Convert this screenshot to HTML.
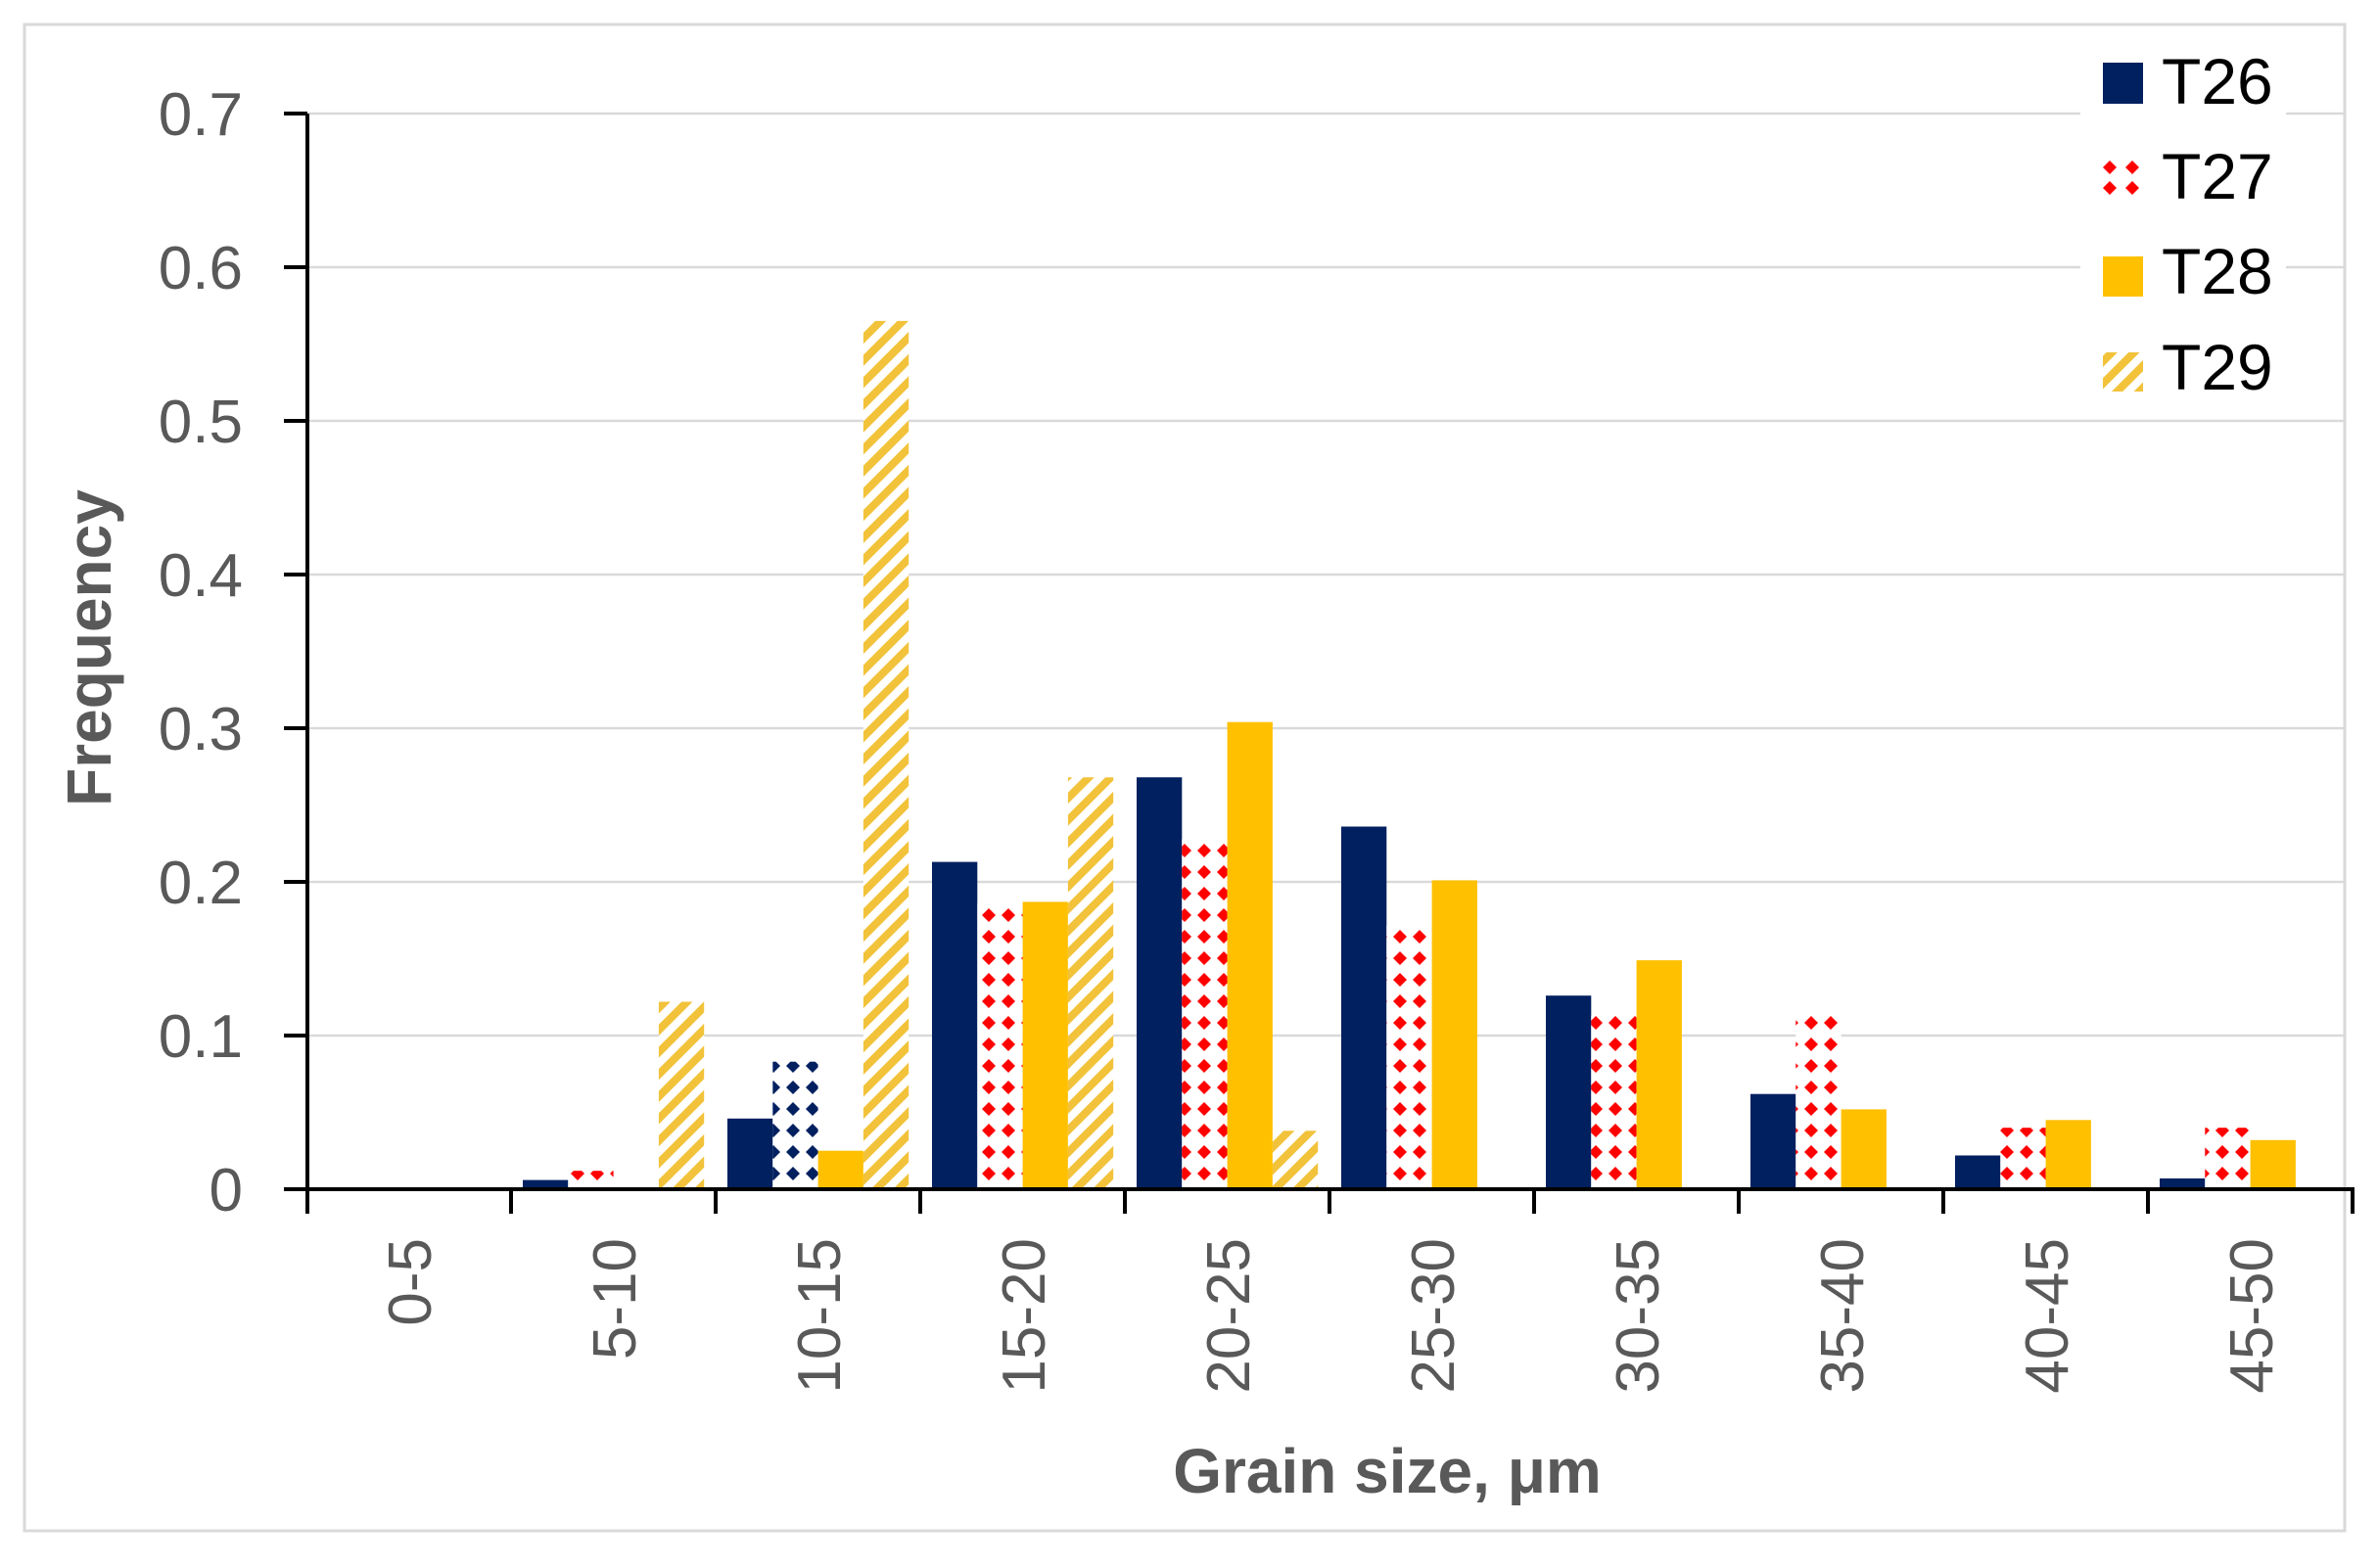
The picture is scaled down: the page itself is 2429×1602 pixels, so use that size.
<!DOCTYPE html>
<html><head><meta charset="utf-8"><style>
html,body{margin:0;padding:0;background:#fff;}
svg{display:block;font-family:"Liberation Sans",sans-serif;}
</style></head><body>
<svg width="2429" height="1602" viewBox="0 0 2429 1602" xmlns="http://www.w3.org/2000/svg">
<defs>
<pattern id="dr" width="20" height="22" patternUnits="userSpaceOnUse">
<rect width="20" height="22" fill="#fff"/>
<polygon points="10,4 17,11 10,18 3,11" fill="#ff0000"/>
</pattern>
<pattern id="dn" width="20" height="22" patternUnits="userSpaceOnUse">
<rect width="20" height="22" fill="#fff"/>
<polygon points="10,4 17,11 10,18 3,11" fill="#002060"/>
</pattern>
<pattern id="st" width="16" height="16" patternUnits="userSpaceOnUse" patternTransform="rotate(45)">
<rect width="16" height="16" fill="#fff"/>
<rect width="8" height="16" fill="#f2c23a"/>
</pattern>
</defs>
<rect x="0" y="0" width="2429" height="1602" fill="#fff"/>
<rect x="25" y="25" width="2370" height="1539" fill="none" stroke="#d9d9d9" stroke-width="3"/>
<g stroke="#d9d9d9" stroke-width="2.5">
<line x1="316" x2="2395" y1="116" y2="116"/>
<line x1="316" x2="2395" y1="273" y2="273"/>
<line x1="316" x2="2395" y1="430" y2="430"/>
<line x1="316" x2="2395" y1="587" y2="587"/>
<line x1="316" x2="2395" y1="744" y2="744"/>
<line x1="316" x2="2395" y1="901" y2="901"/>
<line x1="316" x2="2395" y1="1058" y2="1058"/>
</g>
<rect x="2125" y="40" width="210" height="380" fill="#fff"/>
<g>
<rect x="534" y="1205.6" width="46.3" height="9.4" fill="#002060"/>
<rect x="580.3" y="1196.2" width="46.3" height="18.8" fill="url(#dr)"/>
<rect x="672.9" y="1023.5" width="46.3" height="191.5" fill="url(#st)"/>

<rect x="743" y="1142.8" width="46.3" height="72.2" fill="#002060"/>
<rect x="789.3" y="1084.7" width="46.3" height="130.3" fill="url(#dn)"/>
<rect x="835.6" y="1175.7" width="46.3" height="39.3" fill="#ffc000"/>
<rect x="881.9" y="327.9" width="46.3" height="887.1" fill="url(#st)"/>

<rect x="952" y="880.6" width="46.3" height="334.4" fill="#002060"/>
<rect x="998.3" y="923" width="46.3" height="292" fill="url(#dr)"/>
<rect x="1044.6" y="921.4" width="46.3" height="293.6" fill="#ffc000"/>
<rect x="1090.9" y="794.2" width="46.3" height="420.8" fill="url(#st)"/>

<rect x="1161" y="794.2" width="46.3" height="420.8" fill="#002060"/>
<rect x="1207.3" y="857" width="46.3" height="358" fill="url(#dr)"/>
<rect x="1253.6" y="737.7" width="46.3" height="477.3" fill="#ffc000"/>
<rect x="1299.9" y="1155.3" width="46.3" height="59.7" fill="url(#st)"/>

<rect x="1370" y="844.5" width="46.3" height="370.5" fill="#002060"/>
<rect x="1416.3" y="945" width="46.3" height="270" fill="url(#dr)"/>
<rect x="1462.6" y="899.4" width="46.3" height="315.6" fill="#ffc000"/>

<rect x="1579" y="1017.2" width="46.3" height="197.8" fill="#002060"/>
<rect x="1625.3" y="1037.6" width="46.3" height="177.4" fill="url(#dr)"/>
<rect x="1671.6" y="981.1" width="46.3" height="233.9" fill="#ffc000"/>

<rect x="1788" y="1117.7" width="46.3" height="97.3" fill="#002060"/>
<rect x="1834.3" y="1037.6" width="46.3" height="177.4" fill="url(#dr)"/>
<rect x="1880.6" y="1133.4" width="46.3" height="81.6" fill="#ffc000"/>

<rect x="1997" y="1180.5" width="46.3" height="34.5" fill="#002060"/>
<rect x="2043.3" y="1152.2" width="46.3" height="62.8" fill="url(#dr)"/>
<rect x="2089.6" y="1144.3" width="46.3" height="70.7" fill="#ffc000"/>

<rect x="2206" y="1204" width="46.3" height="11" fill="#002060"/>
<rect x="2252.3" y="1152.2" width="46.3" height="62.8" fill="url(#dr)"/>
<rect x="2298.6" y="1164.8" width="46.3" height="50.2" fill="#ffc000"/>
</g>
<g stroke="#000" stroke-width="4">
<line x1="314" y1="116" x2="314" y2="1217"/>
<line x1="290" y1="1215" x2="2405" y2="1215"/>
<line x1="290" y1="116" x2="314" y2="116"/>
<line x1="290" y1="273" x2="314" y2="273"/>
<line x1="290" y1="430" x2="314" y2="430"/>
<line x1="290" y1="587" x2="314" y2="587"/>
<line x1="290" y1="744" x2="314" y2="744"/>
<line x1="290" y1="901" x2="314" y2="901"/>
<line x1="290" y1="1058" x2="314" y2="1058"/>
<line x1="314" y1="1215" x2="314" y2="1240"/>
<line x1="522" y1="1215" x2="522" y2="1240"/>
<line x1="731" y1="1215" x2="731" y2="1240"/>
<line x1="940" y1="1215" x2="940" y2="1240"/>
<line x1="1149" y1="1215" x2="1149" y2="1240"/>
<line x1="1358" y1="1215" x2="1358" y2="1240"/>
<line x1="1567" y1="1215" x2="1567" y2="1240"/>
<line x1="1776" y1="1215" x2="1776" y2="1240"/>
<line x1="1985" y1="1215" x2="1985" y2="1240"/>
<line x1="2194" y1="1215" x2="2194" y2="1240"/>
<line x1="2403" y1="1215" x2="2403" y2="1240"/>
</g>
<g fill="#595959" font-size="62" text-anchor="end">
<text x="248" y="1237">0</text>
<text x="248" y="1080">0.1</text>
<text x="248" y="923">0.2</text>
<text x="248" y="766">0.3</text>
<text x="248" y="609">0.4</text>
<text x="248" y="452">0.5</text>
<text x="248" y="295">0.6</text>
<text x="248" y="138">0.7</text>
</g>
<g fill="#595959" font-size="62" text-anchor="end">
<text transform="translate(440,1265) rotate(-90)">0-5</text>
<text transform="translate(649,1265) rotate(-90)">5-10</text>
<text transform="translate(858,1265) rotate(-90)">10-15</text>
<text transform="translate(1067,1265) rotate(-90)">15-20</text>
<text transform="translate(1276,1265) rotate(-90)">20-25</text>
<text transform="translate(1485,1265) rotate(-90)">25-30</text>
<text transform="translate(1694,1265) rotate(-90)">30-35</text>
<text transform="translate(1903,1265) rotate(-90)">35-40</text>
<text transform="translate(2112,1265) rotate(-90)">40-45</text>
<text transform="translate(2321,1265) rotate(-90)">45-50</text>
</g>
<text x="1417" y="1525" font-size="64" font-weight="bold" fill="#595959" text-anchor="middle">Grain size, μm</text>
<text transform="translate(113,662) rotate(-90)" font-size="64" font-weight="bold" fill="#595959" text-anchor="middle">Frequency</text>
<rect x="2148" y="64" width="41" height="42" fill="#002060"/>
<g fill="#ff0000">
<polygon points="2155,164 2162,171 2155,178 2148,171"/>
<polygon points="2178,164 2185,171 2178,178 2171,171"/>
<polygon points="2155,185 2162,192 2155,199 2148,192"/>
<polygon points="2178,185 2185,192 2178,199 2171,192"/>
</g>
<rect x="2148" y="262" width="41" height="41" fill="#ffc000"/>
<rect x="2148" y="360" width="41" height="40" fill="url(#st)"/>
<g font-size="66" fill="#000">
<text x="2208" y="106">T26</text>
<text x="2208" y="203">T27</text>
<text x="2208" y="300">T28</text>
<text x="2208" y="398">T29</text>
</g>
</svg>
</body></html>
